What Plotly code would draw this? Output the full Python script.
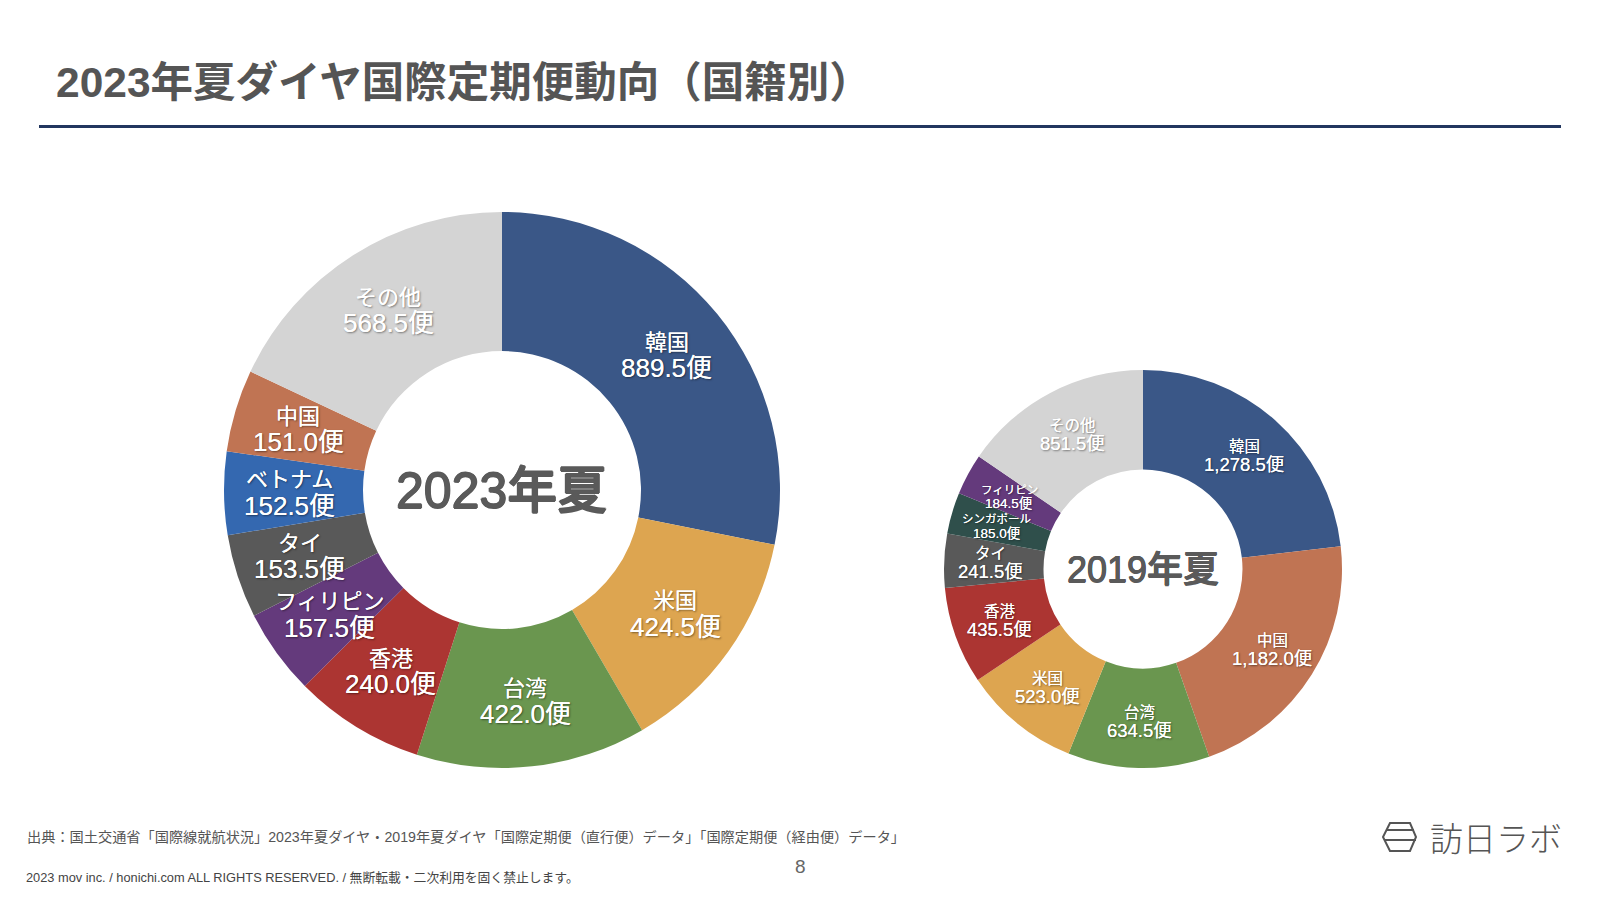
import math
import plotly.graph_objects as go

W, H = 1600, 900
FONT = "Liberation Sans, Noto Sans CJK JP, sans-serif"

cats_2023 = ["韓国", "米国", "台湾", "香港", "フィリピン", "タイ", "ベトナム", "中国", "その他"]
vals_2023 = [889.5, 424.5, 422.0, 240.0, 157.5, 153.5, 152.5, 151.0, 568.5]
cats_2019 = ["韓国", "中国", "台湾", "米国", "香港", "タイ", "シンガポール", "フィリピン", "その他"]
vals_2019 = [1278.5, 1182.0, 634.5, 523.0, 435.5, 241.5, 185.0, 184.5, 851.5]

palette = {"韓国": "#3A5787", "米国": "#DDA550", "台湾": "#6A964F", "香港": "#AC3532",
           "フィリピン": "#643A7C", "タイ": "#595959", "ベトナム": "#3468B0",
           "中国": "#C07453", "その他": "#D4D4D4", "シンガポール": "#2F4F4B"}
small_labels = {"シンガポール", "フィリピン"}
LABEL_SHADOW = "0 0 0.6px white, 1px 1px 2px rgba(0,0,0,0.45)"


def dom(cx, cy, r):
    return dict(x=[(cx - r) / W, (cx + r) / W], y=[1 - (cy + r) / H, 1 - (cy - r) / H])


def donut(cats, vals, cx, cy, r):
    return go.Pie(
        labels=cats, values=vals, textinfo="none", sort=False, direction="clockwise", rotation=0,
        hole=0.5, domain=dom(cx, cy, r),
        marker=dict(colors=[palette[c] for c in cats], line=dict(width=0)),
        showlegend=False, hoverinfo="skip",
    )


def slice_labels(cats, vals, cx, cy, r, big, small=None):
    """Two-line label centred in each ring segment; angles follow from the values."""
    out, run, total = [], 0.0, sum(vals)
    for cat, val in zip(cats, vals):
        theta = 2 * math.pi * (run + val / 2) / total
        run += val
        x = (cx + 0.765 * r * math.sin(theta)) / W
        y = 1 - (cy - 0.765 * r * math.cos(theta)) / H
        name_size, value_size, gap = small if (small and cat in small_labels) else big
        for text, size, shift in ((cat, name_size, gap), (f"{val:,.1f}便", value_size, -gap)):
            out.append(dict(text=text, x=x, y=y, xref="paper", yref="paper", xanchor="center",
                            yanchor="middle", yshift=shift, showarrow=False,
                            font=dict(family=FONT, size=size, color="white", shadow=LABEL_SHADOW)))
    return out


def note(text, x, y, size, color="#555555", anchor="left", family=FONT, weight=None, shadow=None):
    font = dict(family=family, size=size, color=color)
    if weight:
        font["weight"] = weight
    if shadow:
        font["shadow"] = shadow
    return dict(text=text, x=x / W, y=1 - y / H, xref="paper", yref="paper", xanchor=anchor,
                yanchor="middle", showarrow=False, font=font)


def px(x, y):
    return f"{x / W:.5f},{1 - y / H:.5f}"


hexagon = "M" + " L".join(px(*p) for p in [(1390, 823), (1410, 823), (1416, 837), (1410, 851), (1390, 851), (1383, 837)]) + " Z"
bars = "M" + px(1386, 830) + " L" + px(1414, 830) + " M" + px(1384, 840) + " L" + px(1416, 840)
STROKE_BIG = "0.8px 0 0 #5A5A5A, -0.8px 0 0 #5A5A5A, 0 0.8px 0 #5A5A5A, 0 -0.8px 0 #5A5A5A"
STROKE_SMALL = "0.5px 0 0 #5A5A5A, -0.5px 0 0 #5A5A5A, 0 0.5px 0 #5A5A5A, 0 -0.5px 0 #5A5A5A"

fig = go.Figure()
fig.add_trace(donut(cats_2023, vals_2023, 502, 490, 278))
fig.add_trace(donut(cats_2019, vals_2019, 1143, 569, 199))

fig.update_layout(
    width=W, height=H, margin=dict(l=0, r=0, t=0, b=0),
    paper_bgcolor="white", plot_bgcolor="white", showlegend=False,
    annotations=[
        note("<b>2023年夏ダイヤ国際定期便動向（国籍別）</b>", 54, 83, 42.5),
        note("出典：国土交通省「国際線就航状況」2023年夏ダイヤ・2019年夏ダイヤ「国際定期便（直行便）データ」「国際定期便（経由便）データ」", 25, 837, 14.2),
        note("2023 mov inc. / honichi.com ALL RIGHTS RESERVED. / 無断転載・二次利用を固く禁止します。", 24, 877, 12.8, "#444444"),
        note("8", 800, 866, 19, "#666666", "center"),
        note("訪日ラボ", 1564, 837, 33, "#555555", "right", "Noto Sans CJK JP", 300),
        note("2023年夏", 502, 491, 50, "#5A5A5A", "center", FONT, 500, STROKE_BIG),
        note("2019年夏", 1143, 569, 36, "#5A5A5A", "center", FONT, 500, STROKE_SMALL),
    ] + slice_labels(cats_2023, vals_2023, 502, 490, 278, (22, 26, 13))
      + slice_labels(cats_2019, vals_2019, 1143, 569, 199, (15.5, 18.5, 9), (11.5, 13.5, 7)),
    shapes=[
        dict(type="line", xref="paper", yref="paper", x0=39 / W, x1=1561 / W, y0=1 - 126.5 / H, y1=1 - 126.5 / H,
             line=dict(color="#22365F", width=3)),
        dict(type="path", xref="paper", yref="paper", path=hexagon, line=dict(color="#555555", width=2)),
        dict(type="path", xref="paper", yref="paper", path=bars, line=dict(color="#555555", width=2)),
    ],
)
fig.write_html("out.html", config=dict(displayModeBar=False), post_script="document.body.style.margin='0';")
